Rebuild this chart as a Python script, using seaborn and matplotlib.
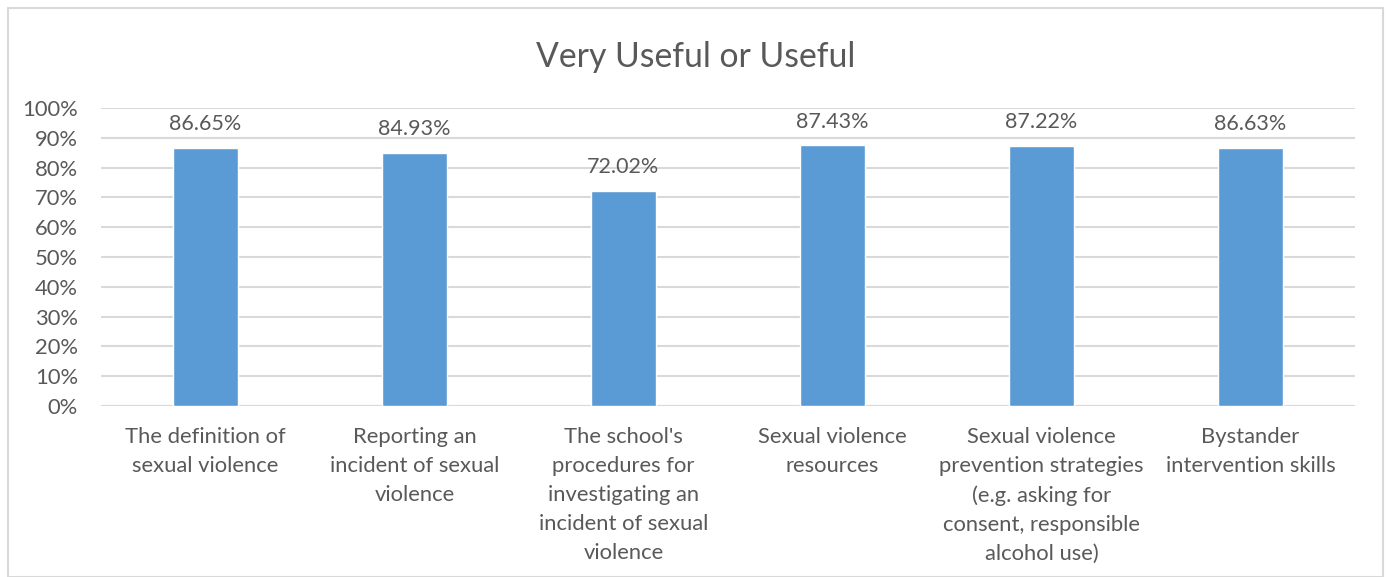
import matplotlib
matplotlib.use("Agg")
import matplotlib.pyplot as plt
import seaborn as sns
import pandas as pd
from matplotlib.patches import Rectangle
from matplotlib.ticker import PercentFormatter

categories = [
    "The definition of\nsexual violence",
    "Reporting an\nincident of sexual\nviolence",
    "The school's\nprocedures for\ninvestigating an\nincident of sexual\nviolence",
    "Sexual violence\nresources",
    "Sexual violence\nprevention strategies\n(e.g. asking for\nconsent, responsible\nalcohol use)",
    "Bystander\nintervention skills",
]
values = [86.65, 84.93, 72.02, 87.43, 87.22, 86.63]
yticks = list(range(0, 101, 10))

sns.set_theme(style="white")
plt.rcParams['font.family'] = ['Lato', 'DejaVu Sans']

df = pd.DataFrame({"cat": categories, "val": values})
text_c = "#595959"
grid_c = "#D9D9D9"

fig = plt.figure(figsize=(13.92, 5.77), dpi=100)
fig.patches.append(Rectangle((8/1392, 0), (1383-8)/1392, 1 - 8/577, transform=fig.transFigure,
                             fill=False, edgecolor=grid_c, linewidth=1.5, clip_on=False))
ax = fig.add_axes([101/1392, 1 - 406/577, (1355-101)/1392, (406-108)/577])
sns.barplot(data=df, x="cat", y="val", color="#5B9BD5", saturation=1, width=0.31, ax=ax)
ax.set_ylim(0, 100)
ax.set_xlim(-0.5, len(categories) - 0.5)
ax.set_yticks(yticks)
ax.yaxis.set_major_formatter(PercentFormatter(decimals=0))
ax.yaxis.grid(True, color=grid_c, linewidth=1.5)
ax.set_axisbelow(True)
for s in ax.spines.values():
    s.set_visible(False)
ax.axhline(0, color=grid_c, linewidth=1.5, zorder=0.5)
ax.tick_params(axis='y', labelsize=15.8, colors=text_c, length=0, pad=16.5)
ax.tick_params(axis='x', labelsize=15.8, colors=text_c, length=0, pad=15)
for lbl in ax.get_xticklabels():
    lbl.set_linespacing(1.57)
    lbl.set_verticalalignment('top')
ax.set_xlabel("")
ax.set_ylabel("")
for i, v in enumerate(values):
    ax.annotate(f"{v:.2f}%", (i, v), xytext=(0, 10), textcoords="offset points",
                ha="center", va="bottom", fontsize=15.5, color=text_c)
fig.text(0.5, 1 - 57/577, "Very Useful or Useful", ha="center", va="center",
         fontsize=24.3, color=text_c)
fig.savefig("out.png", dpi=100)
